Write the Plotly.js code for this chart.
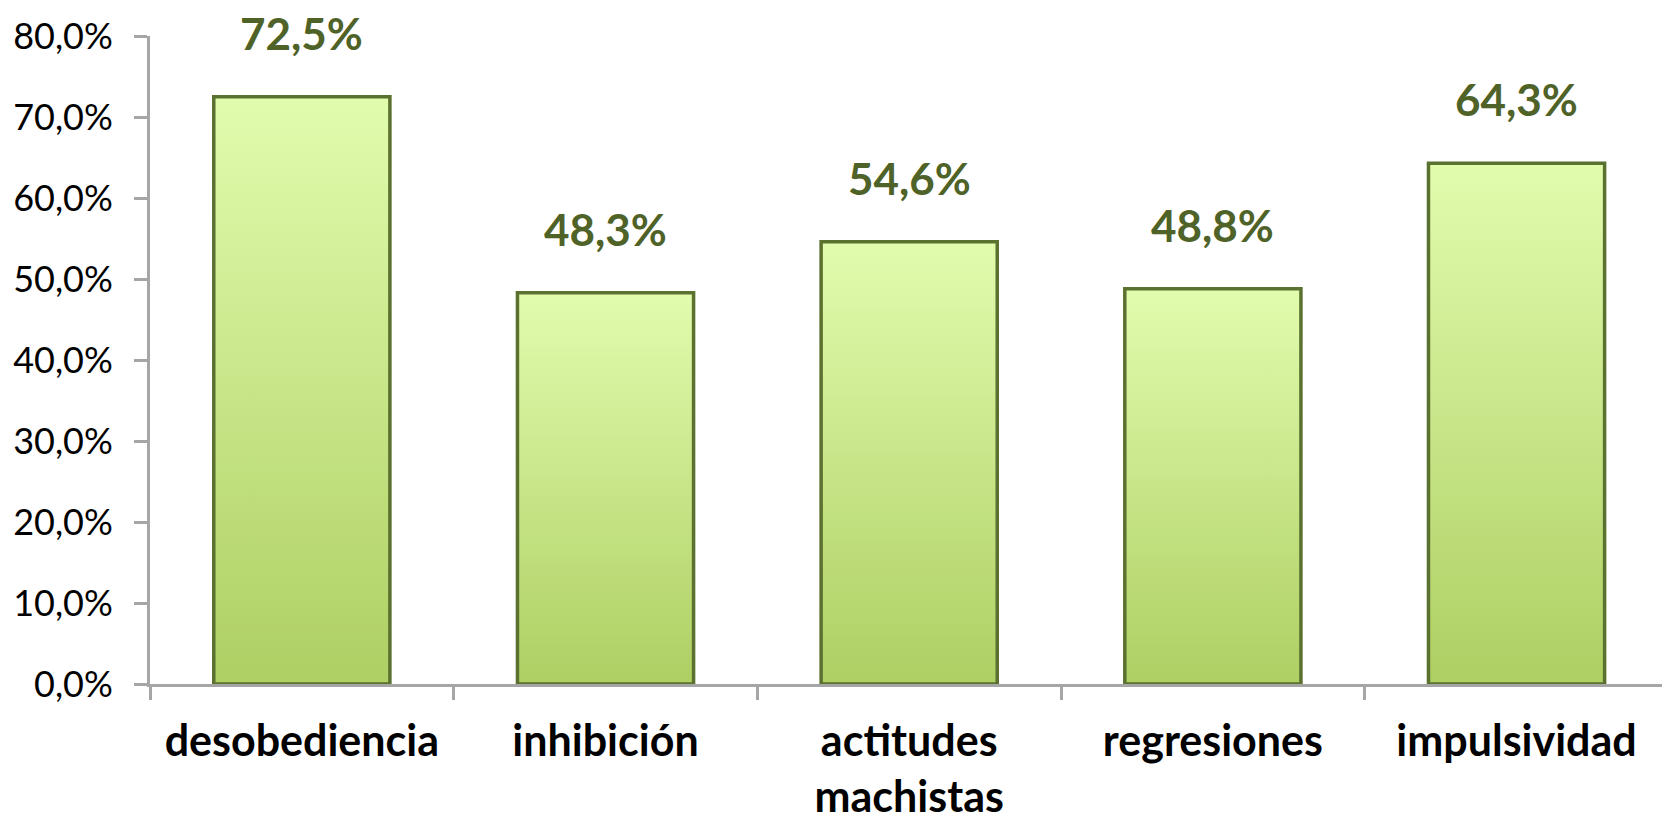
<!DOCTYPE html>
<html>
<head>
<meta charset="utf-8">
<script src="https://cdn.plot.ly/plotly-3.0.1.min.js"></script>
<style>html,body{margin:0;padding:0;background:#fff;overflow:hidden}</style>
</head>
<body>
<div id="chart" style="width:1662px;height:825px"></div>
<script>
const categories = ["desobediencia", "inhibición", "actitudes<br>machistas", "regresiones", "impulsividad"];
const values = [72.5, 48.3, 54.6, 48.8, 64.3];
const yTickVals = [0, 10, 20, 30, 40, 50, 60, 70, 80];

const fmt = v => v.toFixed(1).replace('.', ',') + '%';

const trace = {
  type: 'bar',
  x: categories,
  y: values,
  width: 0.58,
  marker: { color: '#C8E68C', line: { color: '#5B7130', width: 3.5 } },
  hoverinfo: 'none'
};

const annotations = categories.map((c, i) => ({
  x: c, y: values[i], xref: 'x', yref: 'y',
  text: '<b>' + fmt(values[i]) + '</b>',
  showarrow: false, yanchor: 'middle', yshift: 64,
  font: { family: 'Lato, sans-serif', size: 44, color: '#4F6228' }
}));

const layout = {
  width: 1662, height: 825,
  margin: { l: 150, r: 0, t: 36, b: 141 },
  paper_bgcolor: '#fff', plot_bgcolor: '#fff',
  separators: ',.',
  showlegend: false,
  font: { family: 'Lato, sans-serif', color: '#000' },
  xaxis: {
    type: 'category',
    range: [-0.5, 4.479],
    showline: true, linecolor: '#A6A6A6', linewidth: 3,
    ticks: 'outside', tickson: 'boundaries', ticklen: 13, tickwidth: 3, tickcolor: '#A6A6A6',
    tickfont: { family: 'Lato, sans-serif', size: 43, color: '#000', weight: 'bold' },
    ticklabelstandoff: 17,
    showgrid: false, zeroline: false, fixedrange: true
  },
  yaxis: {
    range: [0, 80],
    tickvals: yTickVals,
    ticktext: yTickVals.map(fmt),
    showline: true, linecolor: '#A6A6A6', linewidth: 3,
    ticks: 'outside', ticklen: 13, tickwidth: 3, tickcolor: '#A6A6A6',
    tickfont: { family: 'Lato, sans-serif', size: 36, color: '#000' },
    ticklabelstandoff: 14,
    showgrid: false, zeroline: false, fixedrange: true
  },
  annotations: annotations
};

Plotly.newPlot('chart', [trace], layout, { displayModeBar: false, staticPlot: true }).then(gd => {
  const svg = gd.querySelector('svg.main-svg');
  const ns = 'http://www.w3.org/2000/svg';
  let defs = svg.querySelector('defs');
  if (!defs) { defs = document.createElementNS(ns, 'defs'); svg.insertBefore(defs, svg.firstChild); }
  const grad = document.createElementNS(ns, 'linearGradient');
  grad.setAttribute('id', 'barGrad');
  grad.setAttribute('x1', '0'); grad.setAttribute('y1', '0');
  grad.setAttribute('x2', '0'); grad.setAttribute('y2', '1');
  [['0%', '#E2FCAE'], ['100%', '#AECF63']].forEach(([o, c]) => {
    const s = document.createElementNS(ns, 'stop');
    s.setAttribute('offset', o); s.setAttribute('stop-color', c);
    grad.appendChild(s);
  });
  defs.appendChild(grad);
  gd.querySelectorAll('.bars .point path').forEach(p => { p.style.fill = 'url(#barGrad)'; });
});
</script>
</body>
</html>
